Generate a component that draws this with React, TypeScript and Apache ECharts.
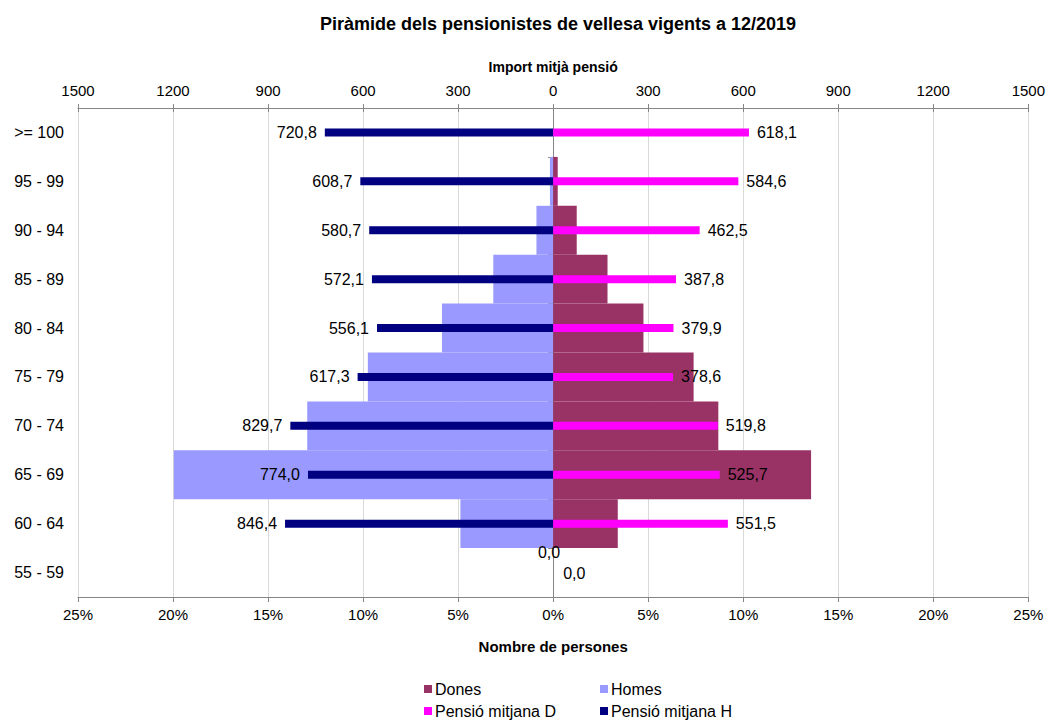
import React, { useEffect, useRef } from "react";
import * as echarts from "echarts";

const categories = ["55 - 59", "60 - 64", "65 - 69", "70 - 74", "75 - 79", "80 - 84", "85 - 89", "90 - 94", "95 - 99", ">= 100"];
const homesPct = [0, 4.88, 19.96, 12.94, 9.75, 5.85, 3.15, 0.88, 0.17, 0];
const donesPct = [0, 3.4, 13.57, 8.69, 7.39, 4.75, 2.86, 1.24, 0.24, 0];
const pensioH = [0, 846.4, 774.0, 829.7, 617.3, 556.1, 572.1, 580.7, 608.7, 720.8];
const pensioD = [0, 551.5, 525.7, 519.8, 378.6, 379.9, 387.8, 462.5, 584.6, 618.1];
const pctTicks = { min: -25, max: 25, interval: 5 };
const eurTicks = { min: -1500, max: 1500, interval: 300 };
const legendItems = ["Dones", "Homes", "Pensió mitjana D", "Pensió mitjana H"];

const FONT = "'Liberation Sans', Arial, sans-serif";
const fmt = (v: number) => Math.abs(v).toFixed(1).replace(".", ",");

export default function App() {
  const ref = useRef<HTMLDivElement>(null);
  useEffect(() => {
    if (!ref.current) return;
    const chart = echarts.init(ref.current, null, { renderer: "svg" });
    const axisGray = "#868686";
    const legendPos = [
      { left: 424, top: 681 },
      { left: 600, top: 681 },
      { left: 424, top: 703 },
      { left: 600, top: 703 },
    ];
    const option: any = {
      animation: false,
      textStyle: { fontFamily: FONT },
      title: {
        text: "Piràmide dels pensionistes de vellesa vigents a 12/2019",
        left: 553,
        textAlign: "center",
        top: 10,
        textStyle: { fontFamily: FONT, fontSize: 18, fontWeight: "bold", color: "#000" },
      },
      legend: legendItems.map((name, i) => ({
        data: [name],
        orient: "horizontal",
        left: legendPos[i].left,
        top: legendPos[i].top,
        padding: 0,
        itemWidth: 8,
        itemHeight: 8,
        icon: "rect",
        textStyle: { fontFamily: FONT, fontSize: 16, color: "#000", padding: [0, 0, 0, -2] },
      })),
      grid: { left: 78, right: 19, top: 108, bottom: 123, containLabel: false },
      xAxis: [
        {
          type: "value",
          position: "bottom",
          ...pctTicks,
          name: "Nombre de persones",
          nameLocation: "middle",
          nameGap: 42,
          nameTextStyle: { fontFamily: FONT, fontSize: 15, fontWeight: "bold", color: "#000" },
          axisLine: { show: true, lineStyle: { color: axisGray, width: 1 } },
          axisTick: { show: true, length: 5, lineStyle: { color: axisGray } },
          axisLabel: { fontFamily: FONT, fontSize: 15, color: "#000", margin: 10, formatter: (v: number) => Math.abs(v) + "%" },
          splitLine: { show: true, lineStyle: { color: "#d9d9d9", width: 1 } },
        },
        {
          type: "value",
          position: "top",
          ...eurTicks,
          name: "Import mitjà pensió",
          nameLocation: "middle",
          nameGap: 34,
          nameTextStyle: { fontFamily: FONT, fontSize: 14, fontWeight: "bold", color: "#000" },
          axisLine: { show: true, onZero: false, lineStyle: { color: axisGray, width: 1 } },
          axisTick: { show: true, length: 4, lineStyle: { color: axisGray } },
          axisLabel: { fontFamily: FONT, fontSize: 15, color: "#000", margin: 10, formatter: (v: number) => String(Math.abs(v)) },
          splitLine: { show: false },
        },
        {
          type: "value",
          position: "top",
          ...eurTicks,
          axisLine: { show: false, onZero: false },
          axisTick: { show: true, inside: true, length: 4, lineStyle: { color: axisGray } },
          axisLabel: { show: false },
          splitLine: { show: false },
        },
      ],
      yAxis: [
        {
          type: "category",
          position: "left",
          data: categories,
          axisLine: { show: false, onZero: false },
          axisTick: { show: false },
          axisLabel: { fontFamily: FONT, fontSize: 16, color: "#000", margin: 14 },
          splitLine: { show: false },
        },
        {
          type: "category",
          position: "left",
          data: categories,
          axisLine: { show: true, onZero: true, onZeroAxisIndex: 0, lineStyle: { color: axisGray, width: 1 } },
          axisTick: { show: true, length: 5, lineStyle: { color: axisGray } },
          axisLabel: { show: false },
          splitLine: { show: false },
        },
      ],
      series: [
        {
          name: "Homes",
          type: "bar",
          xAxisIndex: 0,
          yAxisIndex: 0,
          stack: "pct",
          barCategoryGap: "0%",
          itemStyle: { color: "#9999FF" },
          data: homesPct.map((v) => -v),
        },
        {
          name: "Dones",
          type: "bar",
          xAxisIndex: 0,
          yAxisIndex: 0,
          stack: "pct",
          barCategoryGap: "0%",
          itemStyle: { color: "#993366" },
          data: donesPct,
        },
        {
          name: "Pensió mitjana H",
          type: "bar",
          xAxisIndex: 1,
          yAxisIndex: 1,
          stack: "pen",
          barWidth: 8,
          itemStyle: { color: "#000080" },
          label: {
            show: true,
            position: "left",
            distance: 8,
            fontFamily: FONT,
            fontSize: 16,
            color: "#000",
            formatter: (p: any) => fmt(p.value),
          },
          data: pensioH.map((v, i) =>
            i === 0 ? { value: -v, label: { offset: [15, -20] } } : -v
          ),
        },
        {
          name: "Pensió mitjana D",
          type: "bar",
          xAxisIndex: 1,
          yAxisIndex: 1,
          stack: "pen",
          barWidth: 8,
          itemStyle: { color: "#FF00FF" },
          label: {
            show: true,
            position: "right",
            distance: 8,
            fontFamily: FONT,
            fontSize: 16,
            color: "#000",
            formatter: (p: any) => fmt(p.value),
          },
          data: pensioD.map((v, i) => (i === 0 ? { value: v, label: { offset: [2, 1] } } : v)),
        },
      ],
    };
    chart.setOption(option);
    return () => chart.dispose();
  }, []);
  return (
    <div
      ref={ref}
      style={{ position: "fixed", left: 0, top: 0, width: 1048, height: 720, background: "#fff" }}
    />
  );
}
